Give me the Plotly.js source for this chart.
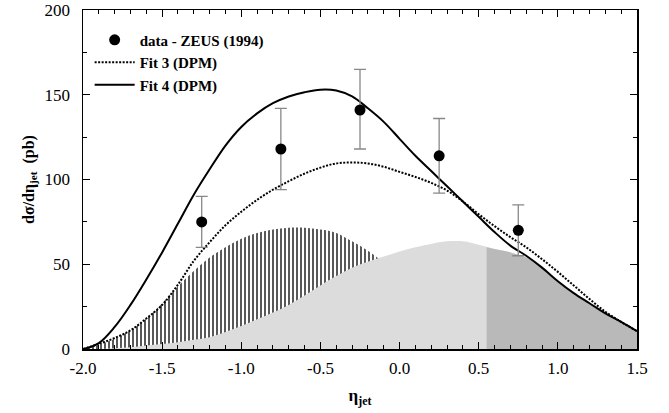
<!DOCTYPE html>
<html>
<head>
<meta charset="utf-8">
<script src="https://cdn.plot.ly/plotly-3.0.1.min.js"></script>
<style>html,body{margin:0;padding:0;background:#fff}#chart{width:669px;height:413px}</style>
</head>
<body>
<div id="chart"></div>
<script>
// ---- data ----
const etaGrid = [-2.0,-1.9,-1.8,-1.7,-1.6,-1.5,-1.4,-1.3,-1.2,-1.1,-1.0,-0.9,-0.8,-0.7,-0.6,-0.5,-0.4,-0.3,-0.2,-0.1,0.0,0.1,0.2,0.3,0.4,0.5,0.6,0.7,0.8,0.9,1.0,1.1,1.2,1.3,1.4,1.5];
const fit4 = [0,3.5,13,26,41,57,74,91,106,120,131,139,145,149,151.5,153,152.5,149,142,134,124,114,105,96,87,78,69,61,55,48,40,33,27,21,16,10.5];
const fit3 = [0,3,6.5,11,18,26,38,52,63,73,81,88,94,99,103.5,107,109.5,110,109.5,107.5,104.5,101.5,98,93.5,87,79.5,72.5,66,60,53,45.5,37.5,29.5,22,16,10.5];
// hatched component (vertical lines)
const compA = [0,2.5,6,11,18,27,37,46,54,60,65,68.5,70.5,71.5,71.5,70.5,68.5,63.5,58,51,44,38,32,26,20,15,10,7,4,2,1,0,0,0,0,0];
// light grey component
const compB = [0,0,0.5,1,2,3,4,5.5,7,10,13.5,17.5,21.5,26,31.5,37.5,43,48,51.5,54.5,57.5,60,62,63.5,63.5,61.5,59,57,54,48,40,33,27,21,16,10.5];
// darker grey component
const etaC = [0.55,0.6,0.7,0.8,0.9,1.0,1.1,1.2,1.3,1.4,1.5];
const compC = [60,59,57,54,48,40,33,27,21,16,10.5];
// ZEUS data
const dataEta = [-1.25,-0.75,-0.25,0.25,0.75];
const dataVal = [75,118,141,114,70];
const dataErrUp = [15,24,24,22,15];
const dataErrDn = [15,24,23,22,15];
const xTickVals = [-2.0,-1.5,-1.0,-0.5,0.0,0.5,1.0,1.5];
const xTickText = ['-2.0','-1.5','-1.0','-0.5','0.0','0.5','1.0','1.5'];

const serif = '"Liberation Serif", serif';

const traces = [
  {x: etaGrid, y: compA, type:'scatter', mode:'lines', line:{width:0, shape:'spline'},
   fill:'tozeroy', fillcolor:'rgba(0,0,0,0)',
   fillpattern:{shape:'|', fgcolor:'#111', bgcolor:'#fff', size:4, solidity:0.35},
   showlegend:false, hoverinfo:'skip'},
  {x: etaGrid, y: compB, type:'scatter', mode:'lines', line:{width:0, shape:'spline'},
   fill:'tozeroy', fillcolor:'#dcdcdc', showlegend:false, hoverinfo:'skip'},
  {x: etaC, y: compC, type:'scatter', mode:'lines', line:{width:0, shape:'spline'},
   fill:'tozeroy', fillcolor:'#b9b9b9', showlegend:false, hoverinfo:'skip'},
  {x: etaGrid, y: fit3, type:'scatter', mode:'lines', name:'Fit 3 (DPM)', legendrank:2,
   line:{color:'#000', width:2, dash:'2px,1.5px', shape:'spline'}},
  {x: etaGrid, y: fit4, type:'scatter', mode:'lines', name:'Fit 4 (DPM)', legendrank:3,
   line:{color:'#000', width:2, shape:'spline'}},
  {x: dataEta, y: dataVal, type:'scatter', mode:'markers', name:'data - ZEUS (1994)', legendrank:1,
   marker:{color:'#000', size:11},
   error_y:{type:'data', symmetric:false, array:dataErrUp, arrayminus:dataErrDn, color:'#888', thickness:1.3, width:6}}
];

const layout = {
  width:669, height:413,
  margin:{l:83, r:32, t:10, b:64},
  paper_bgcolor:'#fff', plot_bgcolor:'#fff',
  font:{family:serif, color:'#000', size:16},
  showlegend:true,
  legend:{x:0.012, y:0.96, xanchor:'left', yanchor:'top', bgcolor:'rgba(0,0,0,0)',
    font:{family:serif, size:15, color:'#000', weight:'bold'}, tracegroupgap:0, itemwidth:40},
  xaxis:{range:[-2,1.5], tickmode:'array', tickvals:xTickVals, ticktext:xTickText,
    ticks:'inside', ticklen:7, tickwidth:1, tickcolor:'#000',
    minor:{dtick:0.1, ticks:'inside', ticklen:4, tickcolor:'#000'},
    showline:true, linecolor:'#000', linewidth:1.5, mirror:'ticks', showgrid:false, zeroline:false,
    tickfont:{family:serif, size:17}, ticklabelstandoff:3,
    title:{text:'<b>η<sub>jet</sub></b>', font:{family:serif, size:17}, standoff:12}},
  yaxis:{range:[0,200], dtick:50, ticks:'inside', ticklen:7, tickwidth:1, tickcolor:'#000',
    minor:{dtick:25, ticks:'inside', ticklen:4, tickcolor:'#000'},
    showline:true, linecolor:'#000', linewidth:1.5, mirror:'ticks', showgrid:false, zeroline:false,
    tickfont:{family:serif, size:17}, ticklabelstandoff:8,
    title:{text:'<b>dσ/dη<sub>jet</sub>  (pb)</b>', font:{family:serif, size:16}, standoff:6}}
};

Plotly.newPlot('chart', traces, layout, {displayModeBar:false, staticPlot:true});
</script>
</body>
</html>
